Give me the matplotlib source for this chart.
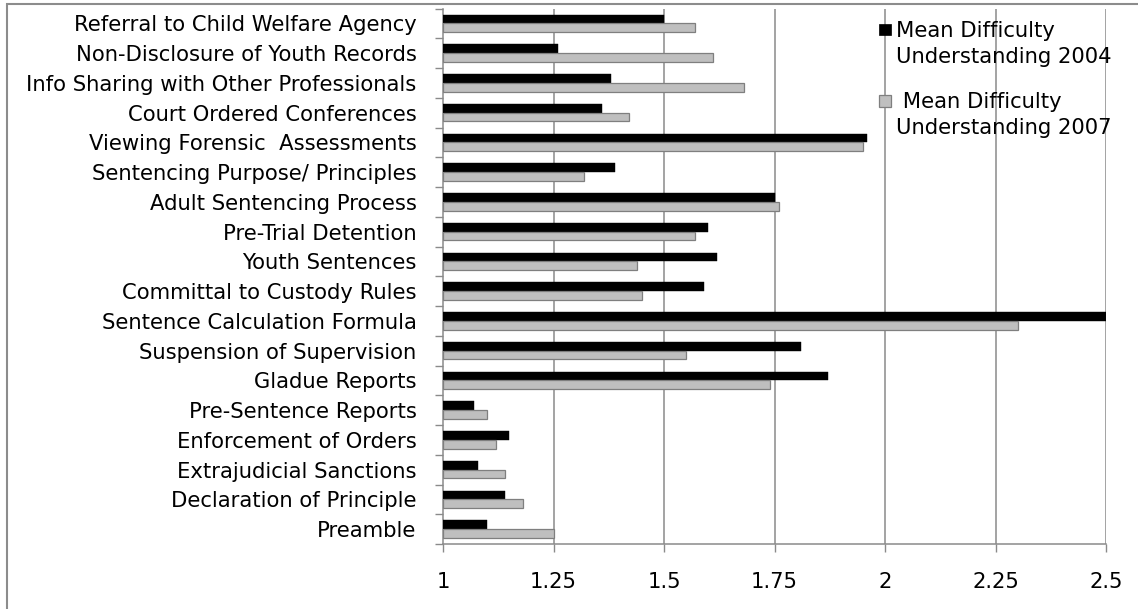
import matplotlib
matplotlib.use("Agg")
import matplotlib.pyplot as plt
from matplotlib.patches import Rectangle
import numpy as np

plt.rcParams['font.family'] = ['DejaVu Sans']

# Topics listed bottom to top
categories = [
    "Preamble",
    "Declaration of Principle",
    "Extrajudicial Sanctions",
    "Enforcement of Orders",
    "Pre-Sentence Reports",
    "Gladue Reports",
    "Suspension of Supervision",
    "Sentence Calculation Formula",
    "Committal to Custody Rules",
    "Youth Sentences",
    "Pre-Trial Detention",
    "Adult Sentencing Process",
    "Sentencing Purpose/ Principles",
    "Viewing Forensic  Assessments",
    "Court Ordered Conferences",
    "Info Sharing with Other Professionals",
    "Non-Disclosure of Youth Records",
    "Referral to Child Welfare Agency",
]

difficulty_2004 = [1.10, 1.14, 1.08, 1.15, 1.07, 1.87, 1.81, 2.50, 1.59, 1.62,
                   1.60, 1.75, 1.39, 1.96, 1.36, 1.38, 1.26, 1.50]
difficulty_2007 = [1.25, 1.18, 1.14, 1.12, 1.10, 1.74, 1.55, 2.30, 1.45, 1.44,
                   1.57, 1.76, 1.32, 1.95, 1.42, 1.68, 1.61, 1.57]

x_ticks = [1, 1.25, 1.5, 1.75, 2, 2.25, 2.5]
x_tick_labels = ["1", "1.25", "1.5", "1.75", "2", "2.25", "2.5"]

FS = 15.2
W, H = 1138, 609
fig = plt.figure(figsize=(W / 100, H / 100), dpi=100)
fig.patch.set_facecolor("white")

# outer chart frame
fig.patches.append(Rectangle((7 / W, -0.05), 1.2, 1 - 4 / H + 0.05,
                             transform=fig.transFigure, fill=False,
                             edgecolor="#8c8c8c", linewidth=1.5))

ax = fig.add_axes([443 / W, 1 - 544 / H, (1106 - 443) / W, (544 - 8.5) / H])

grid_c = "#8a8a8a"
y = np.arange(len(categories))
h = 0.29
ax.barh(y + h / 2, np.array(difficulty_2004) - 1, left=1, height=h,
        color="black", edgecolor="black", linewidth=0.3, zorder=3)
ax.barh(y - h / 2, np.array(difficulty_2007) - 1, left=1, height=h,
        color="#bfbfbf", edgecolor="#7f7f7f", linewidth=0.9, zorder=3)

ax.set_xlim(1, 2.5)
ax.set_ylim(-0.5, len(categories) - 0.5)
ax.set_xticks(x_ticks)
ax.set_xticklabels(x_tick_labels, fontsize=FS)
ax.set_yticks(y)
ax.set_yticklabels(categories, fontsize=FS)
ax.set_yticks(np.arange(-0.5, len(categories), 1), minor=True)

ax.tick_params(axis="y", which="major", length=0, pad=19)
ax.tick_params(axis="y", which="minor", length=6, color=grid_c, width=1.0)
ax.tick_params(axis="x", which="major", length=6, color=grid_c, width=1.0, pad=14)

for x in x_ticks[1:]:
    ax.axvline(x, color=grid_c, linewidth=1.1, zorder=1)

for s in ["top", "right"]:
    ax.spines[s].set_visible(False)
for s in ["left", "bottom"]:
    ax.spines[s].set_color(grid_c)
    ax.spines[s].set_linewidth(1.1)

# legend
def fy(py):
    return 1 - py / H

fig.patches.append(Rectangle((879 / W, fy(35)), 12 / W, 11 / H,
                             transform=fig.transFigure, facecolor="black",
                             edgecolor="black", linewidth=0.5))
fig.text(896 / W, fy(44), "Mean Difficulty\nUnderstanding 2004", fontsize=FS,
         va="center", ha="left", linespacing=1.4)
fig.patches.append(Rectangle((879 / W, fy(107)), 12 / W, 12 / H,
                             transform=fig.transFigure, facecolor="#bfbfbf",
                             edgecolor="#7f7f7f", linewidth=0.9))
fig.text(896 / W, fy(115), " Mean Difficulty\nUnderstanding 2007", fontsize=FS,
         va="center", ha="left", linespacing=1.4)

fig.savefig("out.png", dpi=100)
